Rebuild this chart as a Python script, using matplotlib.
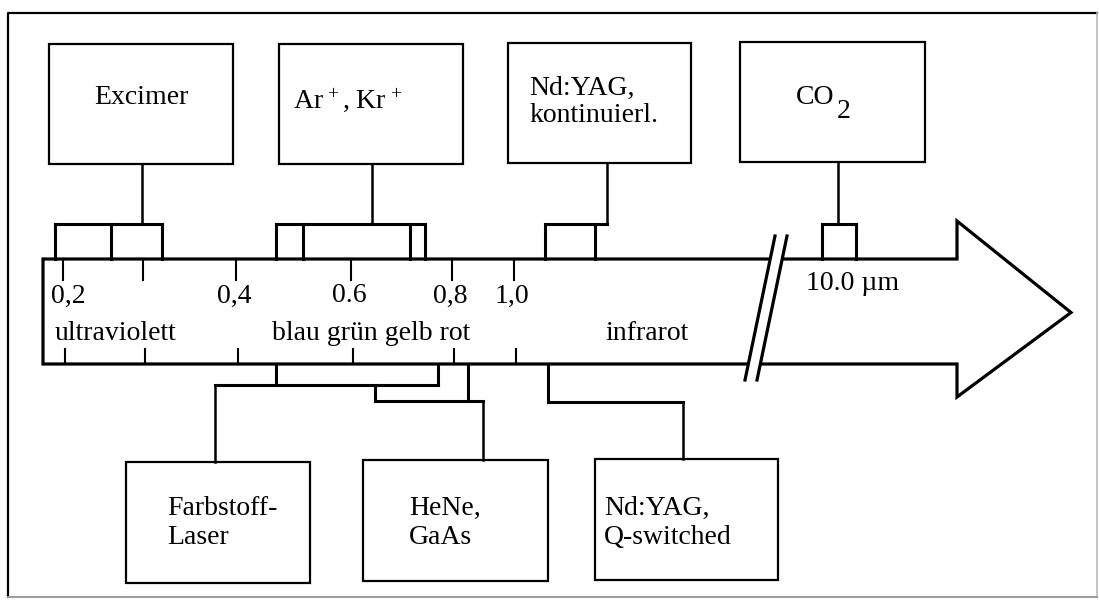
import numpy as np
import matplotlib.pyplot as plt
from matplotlib.patches import Polygon, Rectangle

plt.rcParams['font.family'] = ['Liberation Serif', 'DejaVu Serif']
plt.rcParams['mathtext.fontset'] = 'custom'
plt.rcParams['mathtext.rm'] = 'Liberation Serif'
plt.rcParams['mathtext.it'] = 'Liberation Serif:italic'

# wavelength axis (um) -- the drawing's scale is not linear
tick_um = [0.2, 0.3, 0.4, 0.6, 0.8, 1.0]
tick_labels = ['0,2', '', '0,4', '0.6', '0,8', '1,0']
far_um = 10.0
far_label = '10.0 \u00b5m'

region_names = ['ultraviolett', 'blau gr\u00fcn gelb rot', 'infrarot']
region_um = [0.265, 0.64, 1.43]

# lasers above the arrow: emission lines (um)
top_names = ['Excimer', 'Ar$^{\\,+}$, Kr$^{\\,+}$', 'Nd:YAG,\nkontinuierl.', 'CO']
top_lines = [[0.19, 0.26, 0.32], [0.47, 0.517, 0.717, 0.747], [1.10, 1.26], [9.4, 10.6]]

# lasers below the arrow
bot_names = ['Farbstoff-\nLaser', 'HeNe,\nGaAs', 'Nd:YAG,\nQ-switched']
bot_lines = [[0.47, 0.772], [0.648, 0.85], [1.11]]

# ---- layout (pixels, y downwards) ----
tick_px = [63, 143, 236, 351, 452, 514]
far_px, far_scale = 839, 28.0
arrow_top, arrow_bot = 259, 364
x_left, x_body, x_tip = 43, 957, 1071
head_top, head_bot = 221, 397


def wl2x(w):
    if w > 5:
        return far_px + (w - far_um) * far_scale
    if w < tick_um[0]:
        s = (tick_px[1] - tick_px[0]) / (tick_um[1] - tick_um[0])
        return tick_px[0] + (w - tick_um[0]) * s
    if w > tick_um[-1]:
        s = (tick_px[-1] - tick_px[-2]) / (tick_um[-1] - tick_um[-2])
        return tick_px[-1] + (w - tick_um[-1]) * s
    return np.interp(w, tick_um, tick_px)


fig = plt.figure(figsize=(10.99, 6.01), dpi=100)
ax = fig.add_axes([0, 0, 1, 1])
ax.set_xlim(0, 1099)
ax.set_ylim(601, 0)
ax.axis('off')

k = 'black'
# outer frame
ax.plot([8, 8, 1097], [597, 13, 13], color=k, lw=1.6)
ax.plot([1097, 1097], [13, 597], color='#bbbbbb', lw=1.2)
ax.plot([8, 1097], [597, 597], color='#9a9a9a', lw=1.4)

# arrow
arrow = Polygon([(x_left, arrow_top), (x_body, arrow_top), (x_body, head_top),
                 (x_tip, (arrow_top + arrow_bot) / 2 + 1), (x_body, head_bot),
                 (x_body, arrow_bot), (x_left, arrow_bot)],
                closed=True, fill=False, edgecolor=k, lw=2.3, joinstyle='miter')
ax.add_patch(arrow)

# break marks
b1 = [(745, 380), (775, 236)]
b2 = [(757, 380), (787, 236)]
ax.add_patch(Polygon([b1[0], b1[1], b2[1], b2[0]], closed=True,
                     facecolor='white', edgecolor='none', zorder=3))
for b in (b1, b2):
    ax.plot([b[0][0], b[1][0]], [b[0][1], b[1][1]], color=k, lw=2.3, zorder=4)

# ticks and labels
for w, lab in zip(tick_um, tick_labels):
    x = wl2x(w)
    ax.plot([x, x], [arrow_top, arrow_top + 21], color=k, lw=1.5)
    ax.plot([x + 2, x + 2], [arrow_bot - 15, arrow_bot], color=k, lw=1.5)
    if lab:
        ax.text(x + (5 if w == 0.2 else -2), 296, lab, ha='center', va='center', fontsize=20)
ax.text(853, 283, far_label, ha='center', va='center', fontsize=20)
for name, w in zip(region_names, region_um):
    ax.text(wl2x(w), 334, name, ha='center', va='center', fontsize=20)


def draw_group(xs, starts, level, stem_x, box_edge):
    for x, y0 in zip(xs, starts):
        ax.plot([x, x], [y0, level], color=k, lw=2.2, solid_capstyle='projecting')
    lo, hi = min(min(xs), stem_x), max(max(xs), stem_x)
    ax.plot([lo, hi], [level, level], color=k, lw=2.2, solid_capstyle='projecting')
    ax.plot([stem_x, stem_x], [level, box_edge], color=k, lw=1.8)


def draw_box(x0, y0, x1, y1):
    ax.add_patch(Rectangle((x0, y0), x1 - x0, y1 - y0, fill=False,
                           edgecolor=k, lw=1.6))


# top boxes
top_boxes = [(49, 44, 233, 164), (279, 44, 463, 164), (508, 43, 691, 163), (740, 42, 925, 162)]
top_stems = [142, 372, 607, 838]
top_text = [(141, 98, 'center'), (293, 100, 'left'), (529, 102, 'left'), (796, 97, 'left')]
for name, lines, box, sx, (tx, ty, ha) in zip(top_names, top_lines, top_boxes, top_stems, top_text):
    draw_box(*box)
    xs = [wl2x(w) for w in lines]
    draw_group(xs, [arrow_top] * len(xs), 224, sx, box[3])
    ax.text(tx, ty, name, ha=ha, va='center', fontsize=20, linespacing=1.15)
ax.text(837, 112, '2', ha='left', va='center', fontsize=20)

# bottom boxes
bot_boxes = [(126, 462, 310, 583), (363, 460, 548, 581), (595, 459, 778, 580)]
bot_stems = [215, 483, 683]
bot_levels = [385, 401, 402]
bot_starts = [[arrow_bot, arrow_bot], [385, arrow_bot], [arrow_bot]]
bot_text = [167, 409, 604]
for name, lines, box, sx, lev, st, tx in zip(bot_names, bot_lines, bot_boxes, bot_stems,
                                             bot_levels, bot_starts, bot_text):
    draw_box(*box)
    xs = [wl2x(w) for w in lines]
    draw_group(xs, st, lev, sx, box[1])
    ax.text(tx, 523, name, ha='left', va='center', fontsize=20, linespacing=1.25)

fig.savefig('out.png', dpi=100)
